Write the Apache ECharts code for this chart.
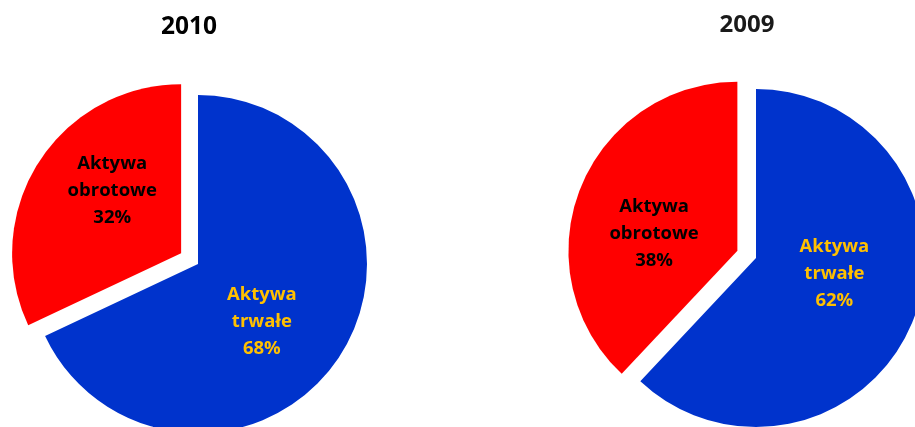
<!DOCTYPE html>
<html>
<head>
<meta charset="utf-8">
<script src="https://cdn.jsdelivr.net/npm/echarts@6/dist/echarts.min.js"></script>
<style>
  html, body { margin: 0; padding: 0; background: #ffffff; }
  #chart { width: 915px; height: 427px; }
</style>
</head>
<body>
<div id="chart"></div>
<script>
// Struktura aktywów: udział procentowy w latach 2010 i 2009
const years = ['2010', '2009'];
const categories = ['Aktywa trwałe', 'Aktywa obrotowe'];
const values2010 = [68, 32];
const values2009 = [62, 38];

const sliceColors = ['#0033CC', '#FF0000'];
const labelColors = ['#FFC000', '#000000'];

// small nudges for the inside labels (per slice), in px
const labelNudge = [
  [[-10, 11], [5, -16]],
  [[-3, -16], [-2, 15]]
];

function labelText(name, value) {
  const parts = name.split(' ');
  return parts[0] + '\n' + parts[1] + '\n' + value + '%';
}

function buildData(values) {
  return values.map((v, i) => ({
    name: categories[i],
    value: v,
    selected: i === 1,
    itemStyle: { color: sliceColors[i] },
    label: { color: labelColors[i] }
  }));
}

function pieSeries(idx, values, center) {
  return {
    type: 'pie',
    center: center,
    radius: 169,
    startAngle: 90,
    clockwise: true,
    selectedMode: 'single',
    selectedOffset: 20,
    animation: false,
    silent: true,
    data: buildData(values),
    label: {
      show: true,
      position: 'inside',
      fontFamily: 'Open Sans',
      fontWeight: 'bold',
      fontSize: 18.5,
      lineHeight: 27,
      align: 'center',
      formatter: p => labelText(p.name, p.value)
    },
    labelLine: { show: false },
    labelLayout: p => ({ dx: labelNudge[idx][p.dataIndex][0], dy: labelNudge[idx][p.dataIndex][1] }),
    emphasis: { disabled: true }
  };
}

const chart = echarts.init(document.getElementById('chart'), null, { renderer: 'canvas' });
chart.setOption({
  backgroundColor: '#ffffff',
  title: [
    { text: years[0], left: 184, top: 10, textAlign: 'center',
      textStyle: { fontFamily: 'Open Sans', fontWeight: 'bold', fontSize: 24.5, color: '#000000' } },
    { text: years[1], left: 742, top: 8, textAlign: 'center',
      textStyle: { fontFamily: 'Open Sans', fontWeight: 'bold', fontSize: 24, color: '#1a1a1a' } }
  ],
  series: [
    pieSeries(0, values2010, [198, 264]),
    pieSeries(1, values2009, [756, 258])
  ]
});
</script>
</body>
</html>
